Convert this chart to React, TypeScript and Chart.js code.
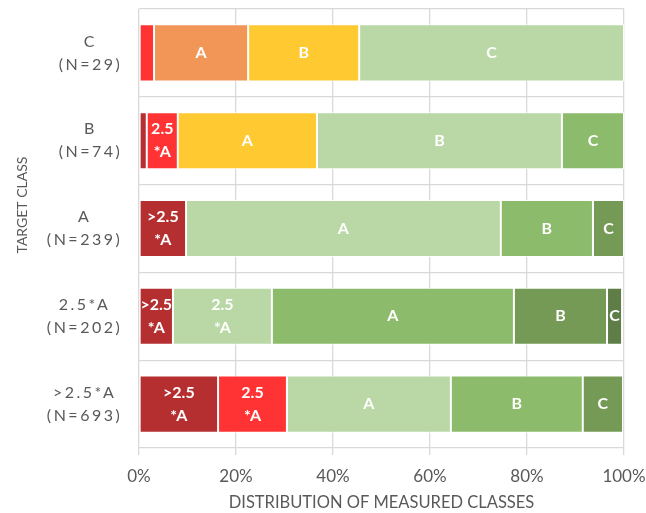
import React, { useEffect, useRef } from "react";
import { Chart, registerables } from "chart.js";

Chart.register(...registerables);

// ---- data ----
const categories: string[][] = [
  ["C", "(N=29)"],
  ["B", "(N=74)"],
  ["A", "(N=239)"],
  ["2.5*A", "(N=202)"],
  [">2.5*A", "(N=693)"],
];
const seriesNames = [">2.5*A", "2.5*A", "A", "B", "C"];
const segmentLabels: string[][] = [[">2.5", "*A"], ["2.5", "*A"], ["A"], ["B"], ["C"]];
const over25A = [0, 1.6, 9.7, 7.0, 16.3];
const at25A = [3.1, 6.4, 0, 20.4, 14.2];
const classA = [19.4, 28.7, 64.9, 49.9, 33.8];
const classB = [22.9, 50.5, 19.0, 19.2, 27.2];
const classC = [54.6, 12.8, 6.4, 3.1, 8.3];
const xTickStep = 20;
const xTitle = "DISTRIBUTION OF MEASURED CLASSES";
const yTitle = "TARGET CLASS";

// ---- styles ----
const palette: Record<string, string> = {
  darkRed: "#B52F31",
  red: "#FF3333",
  orange: "#F19657",
  yellow: "#FFC931",
  lightGreen: "#B9D8A5",
  green: "#8CBB6B",
  darkGreen: "#759A56",
  darkestGreen: "#5F7D46",
};
const over25AColors = ["darkRed", "darkRed", "darkRed", "darkRed", "darkRed"];
const at25AColors = ["red", "red", "red", "lightGreen", "red"];
const classAColors = ["orange", "yellow", "lightGreen", "green", "lightGreen"];
const classBColors = ["yellow", "lightGreen", "green", "darkGreen", "green"];
const classCColors = ["lightGreen", "green", "darkGreen", "darkestGreen", "darkGreen"];

const FONT = "Lato, 'Open Sans', sans-serif";
const TEXT_GREY = "#595959";
const GRID = "#D9D9D9";

const seriesValues = [over25A, at25A, classA, classB, classC];
const seriesColors = [over25AColors, at25AColors, classAColors, classBColors, classCColors];

const customText = {
  id: "customText",
  afterDatasetsDraw(chart: any) {
    const ctx: CanvasRenderingContext2D = chart.ctx;
    ctx.save();
    ctx.fillStyle = "#FFFFFF";
    ctx.font = `bold 16px ${FONT}`;
    ctx.textAlign = "center";
    ctx.textBaseline = "middle";
    chart.data.datasets.forEach((ds: any, di: number) => {
      const meta = chart.getDatasetMeta(di);
      meta.data.forEach((el: any, i: number) => {
        const v = ds.data[i];
        if (!v) return;
        const { x, y, base } = el.getProps(["x", "y", "base"], true);
        const w = Math.abs(x - base);
        const lines = segmentLabels[di];
        const maxW = Math.max(...lines.map((l) => ctx.measureText(l).width));
        if (maxW > w + 4) return;
        const cx = (x + base) / 2;
        lines.forEach((l, k) => {
          ctx.fillText(l, cx, y + (k - (lines.length - 1) / 2) * 23);
        });
      });
    });
    ctx.restore();
  },
  afterDraw(chart: any) {
    const ctx: any = chart.ctx;
    const ys = chart.scales.y;
    ctx.save();
    ctx.fillStyle = TEXT_GREY;
    ctx.font = `16px ${FONT}`;
    ctx.textBaseline = "middle";
    ctx.textAlign = "center";
    ctx.letterSpacing = "2.5px";
    categories.forEach((lines, i) => {
      const cy = ys.getPixelForValue(i);
      const widths = lines.map((l) => ctx.measureText(l).width);
      const maxW = Math.max(...widths);
      const cx = 121 - maxW / 2;
      lines.forEach((l, k) => {
        ctx.fillText(l, cx + 1.25, cy + (k - (lines.length - 1) / 2) * 23);
      });
    });
    ctx.letterSpacing = "0px";
    ctx.font = `14px ${FONT}`;
    ctx.translate(22, 205);
    ctx.rotate(-Math.PI / 2);
    ctx.fillText(yTitle, 0, 0);
    ctx.restore();
  },
};

export default function App() {
  const ref = useRef<HTMLCanvasElement | null>(null);
  useEffect(() => {
    if (!ref.current) return;
    const chart = new Chart(ref.current, {
      type: "bar",
      data: {
        labels: categories.map((c) => c.join(" ")),
        datasets: seriesNames.map((name, i) => ({
          label: name,
          data: seriesValues[i],
          backgroundColor: seriesColors[i].map((k) => palette[k]),
          borderColor: "rgba(255,255,255,0.9)",
          borderWidth: 1,
          borderSkipped: false,
          barPercentage: 0.65,
          categoryPercentage: 1,
        })),
      },
      options: {
        indexAxis: "y",
        animation: false,
        responsive: false,
        maintainAspectRatio: false,
        layout: { padding: { top: 9, right: 22, left: 0, bottom: 0 } },
        plugins: { legend: { display: false }, tooltip: { enabled: false } },
        scales: {
          x: {
            stacked: true,
            min: 0,
            max: 100,
            ticks: {
              stepSize: xTickStep,
              callback: (v: any) => v + "%",
              color: TEXT_GREY,
              font: { family: FONT, size: 17 },
              padding: 11,
            },
            grid: { color: GRID, lineWidth: 1.3, tickLength: 7 },
            border: { display: false },
            title: {
              display: true,
              text: xTitle,
              color: TEXT_GREY,
              font: { family: FONT, size: 16.5 },
              padding: { top: 0, bottom: 0 },
            },
            afterFit: (s: any) => {
              s.height = 65;
              s.paddingRight = 0;
              s.paddingLeft = 0;
            },
          },
          y: {
            stacked: true,
            ticks: { display: false },
            grid: { color: GRID, lineWidth: 1.3, drawTicks: false },
            border: { display: false },
            afterFit: (s: any) => {
              s.width = 139;
            },
          },
        },
      },
      plugins: [customText],
    });
    return () => chart.destroy();
  }, []);
  return (
    <div style={{ position: "fixed", left: 0, top: 0, width: 646, height: 513, background: "#fff" }}>
      <canvas ref={ref} width={646} height={513} style={{ width: 646, height: 513 }} />
    </div>
  );
}
